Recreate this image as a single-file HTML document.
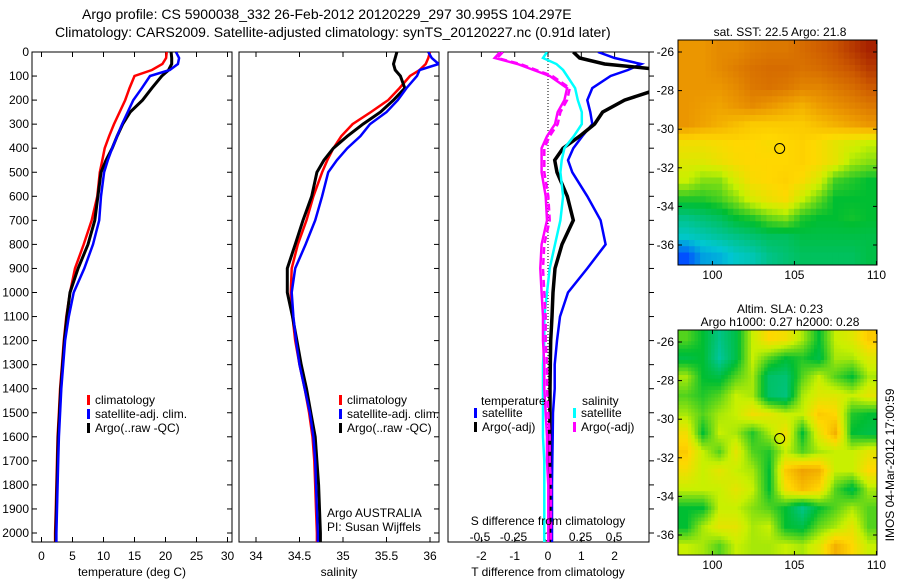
<!DOCTYPE html>
<html><head><meta charset="utf-8"><style>
body{margin:0;background:#fff;}
svg{display:block;font-family:"Liberation Sans",sans-serif;}
</style></head><body>
<svg id="fig" width="900" height="580" viewBox="0 0 900 580">
<defs>
<clipPath id="c1"><rect x="32" y="52" width="200" height="490"/></clipPath>
<clipPath id="c2"><rect x="239" y="52" width="200" height="490"/></clipPath>
<clipPath id="c3"><rect x="448" y="52" width="201" height="490"/></clipPath>
</defs>
<text x="82" y="19" font-size="14">Argo profile: CS 5900038_332 26-Feb-2012 20120229_297 30.995S 104.297E</text>
<text x="55" y="37" font-size="14">Climatology: CARS2009. Satellite-adjusted climatology: synTS_20120227.nc (0.91d later)</text>
<g id="g1"></g>
<g id="g2"></g>
<g id="g3"></g>
<g id="m1"></g>
<g id="m2"></g>
<text transform="translate(894,465) rotate(-90)" font-size="12" text-anchor="middle">IMOS 04-Mar-2012 17:00:59</text>
</svg>
<script>
const depths=[0,25,50,75,100,150,200,250,300,350,400,450,500,600,700,800,900,1000,1100,1200,1300,1400,1500,1600,1700,1800,1900,2000,2050];
const tempClim=[20.2,20.1,19.5,17.8,15,14.2,13.5,12.6,11.7,10.9,10.2,9.8,9.4,9,8.1,6.8,5.4,4.6,4,3.6,3.3,3,2.8,2.6,2.5,2.4,2.3,2.2,2.2];
const tempSat=[21.7,22.2,22,20.7,17.5,16.2,14.8,13.9,13,12.2,11.4,10.7,10.1,9.6,9.3,8.3,6.9,5.2,4.4,3.8,3.5,3.2,3.0,2.8,2.7,2.6,2.5,2.4,2.4];
const tempArgo=[20.9,21,21,20.5,19.4,17.8,16.3,14.3,13.1,12.2,11.4,10.4,9.6,9.1,8.6,7.5,5.9,4.6,4.1,3.7,3.4,3.1,2.9,2.7,2.6,2.5,2.4,2.3,2.3];
const salClim=[36.0,35.98,35.95,35.88,35.77,35.65,35.52,35.32,35.11,34.98,34.89,34.82,34.76,34.66,34.58,34.48,34.41,34.40,34.42,34.45,34.5,34.56,34.61,34.65,34.67,34.68,34.69,34.7,34.7];
const salSat=[35.98,36.02,36.1,35.88,35.85,35.73,35.63,35.5,35.31,35.2,35.05,34.93,34.83,34.76,34.68,34.57,34.45,34.41,34.43,34.46,34.5,34.56,34.62,34.66,34.68,34.69,34.7,34.71,34.71];
const salArgo=[35.62,35.6,35.58,35.6,35.66,35.71,35.58,35.43,35.23,35.05,34.89,34.78,34.7,34.64,34.54,34.45,34.36,34.36,34.42,34.47,34.52,34.58,34.63,34.68,34.7,34.72,34.73,34.74,34.74];
const tDiffSat=[1.5,2.0,2.8,2.4,1.88,1.33,1.18,1.27,1.33,1.03,0.76,0.6,0.73,1.18,1.58,1.73,1.18,0.6,0.36,0.27,0.2,0.2,0.15,0.14,0.13,0.12,0.12,0.12,0.12];
const tDiffArgo=[0.76,0.95,1.7,3.5,3.5,3.4,2.3,1.64,1.4,0.95,0.45,0.2,0.27,0.58,0.76,0.42,0.21,0.15,0.12,0.08,0.07,0.06,0.06,0.05,0.05,0.05,0.05,0.04,0.04];
const sDiffSat=[0,-0.03,0.07,0.12,0.15,0.21,0.23,0.26,0.26,0.2,0.13,0.11,0.1,0.12,0.1,0.06,0.02,0,-0.02,-0.02,-0.03,-0.03,-0.03,-0.03,-0.02,-0.02,-0.02,-0.02,-0.02];
const sDiffArgo=[-0.35,-0.39,-0.22,-0.1,0.02,0.15,0.13,0.08,0.06,0,-0.04,-0.04,-0.04,-0.01,0,-0.04,-0.05,-0.04,-0.03,-0.03,-0.02,-0.02,-0.01,0,0,0.01,0.01,0.01,0.01];
const sDiffArgoAdj=[-0.33,-0.37,-0.2,-0.08,0.04,0.17,0.15,0.1,0.08,0.02,-0.02,-0.02,-0.02,0.01,0.02,-0.02,-0.03,-0.02,-0.01,-0.01,0,0,0.01,0.02,0.02,0.03,0.03,0.03,0.03];
const depthTicks=[0,100,200,300,400,500,600,700,800,900,1000,1100,1200,1300,1400,1500,1600,1700,1800,1900,2000];
const tempTicks=[0,5,10,15,20,25,30];
const salTicks=[34,34.5,35,35.5,36];
const tDiffTicks=[-2,-1,0,1,2];
const sDiffTicks=[-0.5,-0.25,0,0.25,0.5];
const sDiffTickLabels=["-0.5","-0.25","0","0.25","0.5"];
const sstGrid=[
[.8,.8,.82,.82,.84,.85,.85,.87,.89,.91,.94,.97],
[.8,.8,.82,.84,.86,.87,.87,.86,.87,.89,.91,.94],
[.8,.8,.8,.82,.85,.86,.85,.83,.83,.85,.87,.9],
[.8,.79,.78,.8,.82,.8,.78,.76,.79,.81,.83,.85],
[.8,.78,.76,.74,.72,.72,.72,.72,.74,.76,.78,.8],
[.68,.68,.69,.7,.7,.69,.7,.71,.69,.66,.64,.62],
[.65,.65,.67,.69,.7,.7,.7,.71,.69,.66,.6,.58],
[.62,.58,.58,.64,.69,.7,.71,.69,.64,.54,.52,.5],
[.52,.52,.54,.58,.64,.67,.69,.62,.56,.5,.5,.5],
[.42,.44,.46,.5,.52,.56,.58,.52,.5,.5,.51,.5],
[.36,.38,.4,.42,.44,.46,.46,.48,.48,.48,.48,.48],
[.2,.3,.32,.36,.38,.42,.44,.46,.46,.46,.46,.48]];
const slaGrid=[
[.55,.5,.42,.48,.62,.7,.68,.6,.5,.62,.65,.72],
[.48,.5,.4,.48,.62,.55,.5,.52,.48,.6,.6,.65],
[.6,.5,.48,.55,.6,.45,.44,.55,.62,.55,.5,.6],
[.55,.52,.55,.62,.6,.45,.43,.6,.65,.65,.62,.66],
[.6,.55,.6,.62,.68,.66,.62,.62,.72,.7,.52,.5],
[.68,.5,.62,.6,.52,.6,.68,.5,.66,.76,.5,.48],
[.72,.62,.55,.66,.55,.52,.62,.55,.6,.62,.62,.66],
[.68,.62,.66,.62,.6,.5,.72,.78,.76,.62,.62,.7],
[.62,.62,.62,.66,.62,.5,.68,.74,.7,.55,.48,.6],
[.5,.5,.62,.62,.58,.55,.5,.42,.5,.55,.6,.55],
[.5,.6,.66,.66,.6,.62,.5,.48,.56,.6,.66,.55],
[.62,.6,.55,.62,.6,.6,.62,.6,.65,.76,.7,.62]];
const lonTicks=[100,105,110];
const latTicks=[-26,-28,-30,-32,-34,-36];
const argoPos=[104.1,-31];

const NS="http://www.w3.org/2000/svg";
function mk(p,t,a){const e=document.createElementNS(NS,t);for(const k in a)e.setAttribute(k,a[k]);p.appendChild(e);return e;}
const Y=d=>52+d*0.2405;
const xT=v=>41.5+v*6.2, xS=v=>256+(v-34)*87, xTD=v=>548+v*33.3, xSD=v=>547+v*134;
function pts(xf,arr){return arr.map((v,i)=>xf(v).toFixed(1)+","+Y(depths[i]).toFixed(1)).join(" ");}
function frame(g,x0,x1,ticksX,xf,labels,lblY){
  const r=mk(g,"rect",{x:x0,y:52,width:x1-x0,height:490,fill:"none",stroke:"#000","stroke-width":1});
  
  ticksX.forEach((v,i)=>{const x=xf(v);
    mk(g,"line",{x1:x,x2:x,y1:52,y2:57,stroke:"#000"});mk(g,"line",{x1:x,x2:x,y1:542,y2:537,stroke:"#000"});
    if(labels){const t=mk(g,"text",{x:x,y:lblY,"font-size":12,"text-anchor":"middle"});t.textContent=labels[i];
      }
  });
}
function line(g,xf,arr,col,w,name,dash){
  const p=mk(g,"polyline",{points:pts(xf,arr),fill:"none",stroke:col,"stroke-width":w});
  if(dash)p.setAttribute("stroke-dasharray",dash);
  return p;
}
function legend(g,x,y,col,txt){
  mk(g,"rect",{x:x,y:y-9,width:3,height:10,fill:col});
  const t=mk(g,"text",{x:x+8,y:y,"font-size":12});t.textContent=txt;
  
}
function txt(g,x,y,s,name,anchor,size){const t=mk(g,"text",{x:x,y:y,"font-size":size||12,"text-anchor":anchor||"start"});t.textContent=s;
  return t;}

// Panel 1
const g1=document.getElementById("g1");
frame(g1,32,232,tempTicks,xT,tempTicks.map(String),560);
depthTicks.forEach(d=>{const y=Y(d);mk(g1,"line",{x1:32,x2:37,y1:y,y2:y,stroke:"#000"});mk(g1,"line",{x1:232,x2:227,y1:y,y2:y,stroke:"#000"});
  txt(g1,29,y+4,String(d),'y-tick-label',"end");});
const c1=mk(g1,"g",{"clip-path":"url(#c1)"});
line(c1,xT,tempClim,"#f00",2.5,"temp-climatology-line");
line(c1,xT,tempArgo,"#000",3,"temp-argo-line");
line(c1,xT,tempSat,"#00f",2.5,"temp-satellite-line");
legend(g1,87,404,"#f00","climatology");legend(g1,87,418,"#00f","satellite-adj. clim.");legend(g1,87,432,"#000","Argo(..raw -QC)");
txt(g1,132,576,"temperature (deg C)","x-axis-title","middle");

// Panel 2
const g2=document.getElementById("g2");
frame(g2,239,439,salTicks,xS,salTicks.map(String),560);
depthTicks.forEach(d=>{const y=Y(d);mk(g2,"line",{x1:439,x2:434,y1:y,y2:y,stroke:"#000"});});
const c2=mk(g2,"g",{"clip-path":"url(#c2)"});
line(c2,xS,salClim,"#f00",2.5,"sal-climatology-line");
line(c2,xS,salArgo,"#000",3,"sal-argo-line");
line(c2,xS,salSat,"#00f",2.5,"sal-satellite-line");
legend(g2,339,404,"#f00","climatology");legend(g2,339,418,"#00f","satellite-adj. clim.");legend(g2,339,432,"#000","Argo(..raw -QC)");
txt(g2,327,517,"Argo AUSTRALIA","platform-label");txt(g2,327,531,"PI: Susan Wijffels","pi-label");
txt(g2,339,576,"salinity","x-axis-title","middle");

// Panel 3
const g3=document.getElementById("g3");
frame(g3,448,649,tDiffTicks,xTD,tDiffTicks.map(String),560);
depthTicks.forEach(d=>{const y=Y(d);mk(g3,"line",{x1:649,x2:654,y1:y,y2:y,stroke:"#000"});});
sDiffTicks.forEach((v,i)=>txt(g3,xSD(v),541,sDiffTickLabels[i],'s-tick-label',"middle"));
mk(g3,"line",{x1:xTD(0),x2:xTD(0),y1:52,y2:542,stroke:"#000","stroke-dasharray":"1,2"});
const c3=mk(g3,"g",{"clip-path":"url(#c3)"});
line(c3,xTD,tDiffSat,"#00f",2.5,"tdiff-satellite-line");
line(c3,xTD,tDiffArgo,"#000",3.5,"tdiff-argo-line");
line(c3,xSD,sDiffSat,"#0ff",2.5,"sdiff-satellite-line");
line(c3,xSD,sDiffArgo,"#f0f",2.5,"sdiff-argo-line");
line(c3,xSD,sDiffArgoAdj,"#f0f",2.5,"sdiff-argo-adj-line","7,4");
txt(g3,481,405,"temperature","legend-title");txt(g3,582,405,"salinity","legend-title");
legend(g3,474,417,"#00f","satellite");legend(g3,474,431,"#000","Argo(-adj)");
legend(g3,573,417,"#0ff","satellite");legend(g3,573,431,"#f0f","Argo(-adj)");
txt(g3,548,525,"S difference from climatology","s-axis-title","middle");
txt(g3,548,576,"T difference from climatology","x-axis-title","middle");

// Maps
function cmap(v){const stops=[[0,[0,0,140]],[0.2,[0,80,255]],[0.35,[0,200,210]],[0.5,[0,190,50]],[0.62,[200,240,0]],[0.7,[255,215,0]],[0.8,[235,150,0]],[0.9,[205,90,0]],[1,[150,10,0]]];
  for(let i=1;i<stops.length;i++){if(v<=stops[i][0]){const a=stops[i-1],b=stops[i],f=(v-a[0])/(b[0]-a[0]);
    return "rgb("+a[1].map((c,k)=>Math.round(c+(b[1][k]-c)*f)).join(",")+")";}}return "rgb(150,10,0)";}
function sample(grid,fr,fc){const R=grid.length,C=grid[0].length;
  fr=Math.max(0,Math.min(R-1,fr));fc=Math.max(0,Math.min(C-1,fc));
  const r0=Math.floor(fr),c0=Math.floor(fc),r1=Math.min(R-1,r0+1),c1=Math.min(C-1,c0+1),a=fr-r0,b=fc-c0;
  return grid[r0][c0]*(1-a)*(1-b)+grid[r0][c1]*(1-a)*b+grid[r1][c0]*a*(1-b)+grid[r1][c1]*a*b;}
function drawMap(id,grid,top,titles,sub){
  const g=document.getElementById(id);
  const X=lon=>678+(lon-97.9)*16.4, YL=lat=>top+12+(-26-lat)*19.3;
  const x0=678,x1=877,y0=top,y1=top+225,rows=grid.length*sub,cols=grid[0].length*sub;
  const cw=(x1-x0)/cols,ch=(y1-y0)/rows;
  for(let r=0;r<rows;r++)for(let c=0;c<cols;c++){
    const v=sample(grid,(r+0.5)/sub-0.5,(c+0.5)/sub-0.5);
    const e=mk(g,"rect",{x:(x0+c*cw).toFixed(2),y:(y0+r*ch).toFixed(2),width:(cw+0.5).toFixed(2),height:(ch+0.5).toFixed(2),fill:cmap(v)});
    
    
  }
  mk(g,"rect",{x:x0,y:y0,width:x1-x0,height:y1-y0,fill:"none",stroke:"#000"});
  lonTicks.forEach(l=>{const x=X(l);mk(g,"line",{x1:x,x2:x,y1:y1,y2:y1-4,stroke:"#000"});mk(g,"line",{x1:x,x2:x,y1:y0,y2:y0+4,stroke:"#000"});
    txt(g,x,y1+14,String(l),'lon-tick-label',"middle");});
  latTicks.forEach(l=>{const y=YL(l);mk(g,"line",{x1:x0,x2:x0+4,y1:y,y2:y,stroke:"#000"});mk(g,"line",{x1:x1,x2:x1-4,y1:y,y2:y,stroke:"#000"});
    txt(g,x0-4,y+4,String(l),'lat-tick-label',"end");});
  const c=mk(g,"ellipse",{cx:X(argoPos[0]),cy:YL(argoPos[1]),rx:5,ry:5,fill:"none",stroke:"#000"});
  
  
  titles.forEach((t,i)=>txt(g,780,top-(titles.length-i)*13+9,t,'map-title',"middle"));
}
drawMap("m1",sstGrid,40,["sat. SST: 22.5 Argo: 21.8"],3);
drawMap("m2",slaGrid,330,["Altim. SLA: 0.23","Argo h1000: 0.27 h2000: 0.28"],5);
</script>
</body></html>
